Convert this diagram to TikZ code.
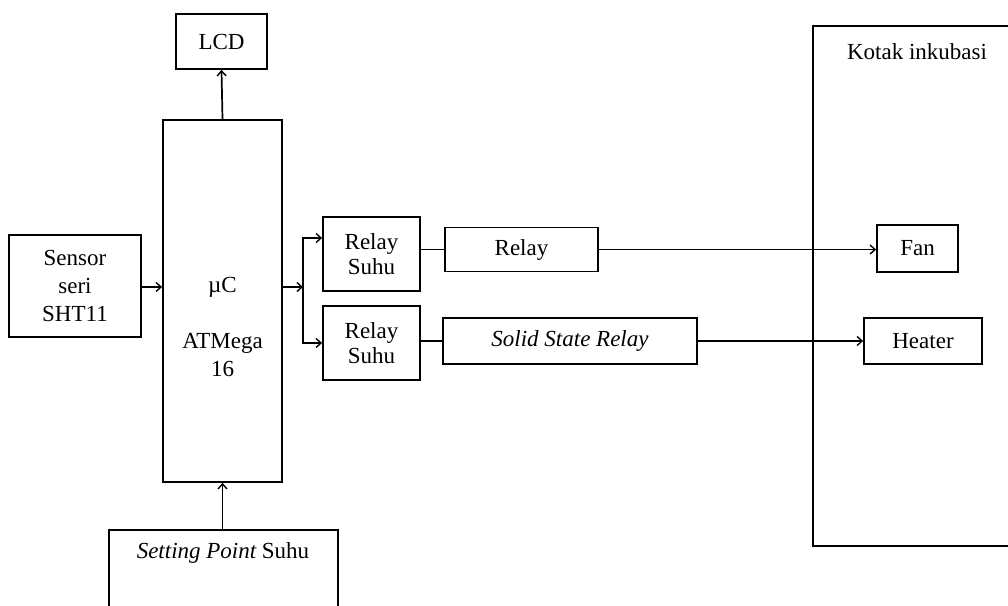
\documentclass[tikz,border=0pt]{standalone}
\usepackage{fontspec}
\setmainfont{Liberation Serif}
\usetikzlibrary{arrows.meta}
\begin{document}
\begin{tikzpicture}[x=1pt,y=-1pt,
  box/.style={draw, line width=1.8pt, inner sep=0pt, align=center, font=\fontsize{23}{28}\selectfont},
  txt/.style={inner sep=0pt, align=center, font=\fontsize{23}{28}\selectfont},
  conn/.style={line width=1.7pt},
  arr/.style={conn, -{Straight Barb[length=5pt,width=9pt,line width=1.4pt]}}]
\clip (0,0) rectangle (1008,605);
\fill[white] (0,0) rectangle (1008,605);
% boxes
\node[box, minimum width=91pt, minimum height=55pt] (lcd) at (221.5,41.5) {LCD};
\node[box, minimum width=119pt, minimum height=362pt] (mc) at (222.5,301) {};
\node[txt] (mctext) at (222.5,327) {µC\\[28pt]ATMega\\16};
\node[box, minimum width=132pt, minimum height=102pt] (sensor) at (75,286) {Sensor\\seri\\SHT11};
\node[box, minimum width=97pt, minimum height=74pt, font=\fontsize{23}{25}\selectfont] (rs1) at (371.5,254) {Relay\\Suhu};
\node[box, minimum width=97pt, minimum height=74pt, font=\fontsize{23}{25}\selectfont] (rs2) at (371.5,343) {Relay\\Suhu};
\node[box, minimum width=153pt, minimum height=44pt] (relay) at (521.5,249.5) {Relay};
\node[box, minimum width=254pt, minimum height=46pt] (ssr) at (570,341) {\itshape Solid State Relay};
\node[box, minimum width=220pt, minimum height=520pt, anchor=north west] (kotak) at (812,25) {};
\node[txt] (kotaktext) at (917,52) {Kotak inkubasi};
\node[box, minimum width=81pt, minimum height=47pt] (fan) at (917.5,248.5) {Fan};
\node[box, minimum width=118pt, minimum height=46pt] (heater) at (923,341) {Heater};
\node[box, minimum width=229pt, minimum height=120pt, anchor=north west] (setting) at (108,529) {};
\node[txt] (settingtext) at (223,553) {\itshape Setting Point\upshape{} Suhu};
% connectors
\coordinate (br) at (303,287);
\draw[arr] (sensor.east |- br) -- (mc.west |- br);
\draw[arr] (mc.east |- br) -- (br);
\draw[arr] (br) |- ([yshift=16pt]rs1.west);
\draw[arr] (br) |- (rs2.west);
\draw[arr] (mc.north) -- (lcd.south);
\draw[arr] (setting.north -| mc.south) -- (mc.south);
\draw[conn] (relay.west -| rs1.east) -- (relay.west);
\draw[conn] (ssr.west -| rs2.east) -- (ssr.west);
\draw[arr] (relay.east) -- (fan.west |- relay.east);
\draw[arr] (ssr.east) -- (heater.west);
\end{tikzpicture}
\end{document}
